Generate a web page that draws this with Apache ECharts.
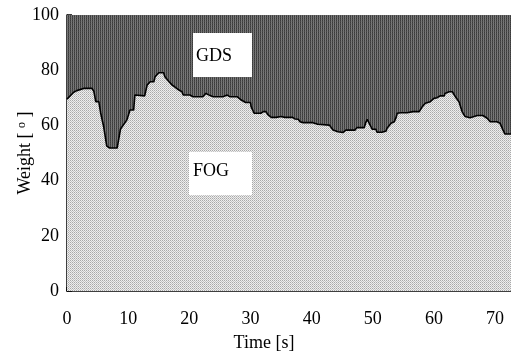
<!DOCTYPE html>
<html>
<head>
<meta charset="utf-8">
<script src="https://cdn.jsdelivr.net/npm/echarts@6/dist/echarts.min.js"></script>
<style>
  html, body { margin: 0; padding: 0; background: #fff; }
  #chart { width: 511px; height: 352px; }
</style>
</head>
<body>
<div id="chart"></div>
<script>
// Time axis (seconds) and FOG weight (%); GDS takes the remainder up to 100.
const timeS = [
  0, 1.1, 1.6, 2.7, 4.1, 4.4, 4.7, 5.2, 5.5, 6.0, 6.5, 7.0, 8.2, 8.5, 8.75,
  9.0, 9.8, 10.3, 10.9, 11.1, 11.4, 12.7, 13.1, 13.6, 14.2, 14.4, 15.0, 15.8,
  16.0, 16.7, 17.2, 17.6, 18.3, 18.8, 19.0, 20.1, 20.6, 22.2, 22.7, 23.4, 23.9,
  25.5, 26.2, 26.6, 27.8, 28.1, 28.5, 29.2, 30.0, 30.1, 30.6, 31.7, 32.1, 32.5,
  32.9, 33.4, 34.2, 34.5, 35.0, 35.6, 36.9, 37.3, 37.8, 38.1, 38.6, 40.2, 40.4,
  41.0, 41.2, 42.9, 43.2, 43.5, 43.7, 44.3, 44.5, 45.1, 45.3, 45.6, 47.1, 47.4,
  48.6, 48.9, 49.1, 49.4, 49.9, 50.5, 50.7, 51.5, 51.8, 52.2, 52.3, 53.0, 53.5,
  53.8, 54.0, 54.6, 55.6, 55.9, 56.6, 57.6, 57.7, 58.1, 58.6, 59.4, 60.0, 60.5,
  61.0, 61.7, 61.8, 62.5, 63.0, 63.3, 63.5, 64.1, 64.6, 65.1, 65.9, 67.1, 68.0,
  68.7, 69.2, 70.3, 70.8, 71.3, 71.6, 72.6
];
const fogWeight = [
  69.5, 72.0, 72.6, 73.4, 73.4, 72.2, 68.6, 68.6, 64.5, 59.5, 52.5, 51.8, 51.8, 51.4, 58.7,
  58.9, 62.0, 65.6, 65.6, 71.0, 70.7, 70.7, 74.6, 75.8, 75.8, 77.6, 79.1, 79.1,
  77.6, 75.8, 74.6, 74.0, 72.8, 72.2, 71.0, 71.0, 70.4, 70.4, 71.6, 70.8, 70.4,
  70.4, 71.0, 70.4, 70.4, 69.8, 69.2, 68.3, 68.3, 66.8, 64.4, 64.4, 65.0, 65.0,
  63.8, 62.9, 62.9, 63.2, 63.2, 62.9, 62.9, 62.3, 62.2, 61.3, 61.0, 61.0, 60.4,
  60.4, 60.1, 60.1, 59.5, 58.3, 57.7, 57.7, 57.4, 57.4, 58.1, 58.3, 58.3, 59.2,
  59.2, 61.3, 62.2, 60.8, 58.6, 58.6, 57.5, 57.5, 58.0, 58.0, 58.9, 60.8, 61.3,
  62.8, 64.4, 64.6, 64.6, 65.2, 65.0, 65.0, 65.6, 66.8, 68.0, 68.6, 69.8, 70.0,
  70.7, 70.7, 71.6, 72.2, 72.2, 71.6, 70.4, 68.6, 65.0, 63.2, 62.8, 63.6, 63.6,
  62.6, 61.3, 61.3, 60.8, 58.3, 56.9, 56.9
];
const xTicks = [0, 10, 20, 30, 40, 50, 60, 70];
const yTicks = [0, 20, 40, 60, 80, 100];
const seriesNames = ['GDS', 'FOG'];

const boundary = timeS.map((t, i) => [t, fogWeight[i]]);

// Small dithered fills, like a printed halftone.
function makePattern(cells) {
  const c = document.createElement('canvas');
  c.width = cells[0].length; c.height = cells.length;
  const ctx = c.getContext('2d');
  cells.forEach((row, y) => row.forEach((col, x) => {
    ctx.fillStyle = col; ctx.fillRect(x, y, 1, 1);
  }));
  return { image: c, repeat: 'repeat' };
}
const fogFill = makePattern([
  ['#a9a9a9', '#eeeeee'],
  ['#eeeeee', '#c4c4c4']
]);
const gdsFill = makePattern([
  ['#3a3a3a', '#7c7c7c'],
  ['#4a4a4a', '#727272']
]);

const serif = 'Liberation Serif, Times New Roman, serif';
const chart = echarts.init(document.getElementById('chart'), null, { renderer: 'canvas' });

chart.setOption({
  animation: false,
  backgroundColor: '#fff',
  grid: { left: 67, right: 0, top: 15, bottom: 61, containLabel: false, outerBoundsMode: 'none' },
  xAxis: {
    type: 'value', min: 0, max: 72.6, interval: 10,
    name: 'Time [s]', nameLocation: 'middle', nameGap: 43, nameMoveOverlap: false,
    nameTextStyle: { fontFamily: serif, fontSize: 18, color: '#000', padding: [0, 50, 0, 0] },
    axisLine: { show: true, lineStyle: { color: '#000', width: 1.5 } },
    axisTick: { show: true, inside: true, length: 4, lineStyle: { color: '#000', width: 1.5 } },
    axisLabel: {
      margin: 19, fontFamily: serif, fontSize: 18, color: '#000', showMaxLabel: false,
      formatter: v => (xTicks.indexOf(v) >= 0 ? String(v) : '')
    },
    splitLine: { show: false }
  },
  yAxis: {
    type: 'value', min: 0, max: 100, interval: 20,
    name: 'Weight [ {s|o} ]', nameLocation: 'middle', nameGap: 32, nameRotate: 90,
    nameMoveOverlap: false,
    nameTextStyle: {
      fontFamily: serif, fontSize: 18, color: '#000',
      rich: { s: { fontFamily: serif, fontSize: 12, color: '#000', padding: [0, 0, 7, 0] } }
    },
    axisLine: { show: true, lineStyle: { color: '#000', width: 1.5 } },
    axisTick: { show: true, inside: true, length: 5, lineStyle: { color: '#000', width: 1.5 } },
    axisLabel: {
      margin: 8, fontFamily: serif, fontSize: 18, color: '#000',
      formatter: v => (yTicks.indexOf(v) >= 0 ? String(v) : '')
    },
    splitLine: { show: false }
  },
  series: [
    {
      name: seriesNames[0], type: 'line', data: boundary, symbol: 'none', z: 1,
      lineStyle: { width: 0 },
      areaStyle: { color: gdsFill, opacity: 1, origin: 'end' }
    },
    {
      name: seriesNames[1], type: 'line', data: boundary, symbol: 'none', z: 2,
      lineStyle: { color: '#000', width: 1.6 },
      areaStyle: { color: fogFill, opacity: 1, origin: 'start' }
    }
  ],
  graphic: [
    { type: 'rect', z: 10, shape: { x: 193, y: 33, width: 59, height: 44 }, style: { fill: '#fff' } },
    { type: 'text', z: 11, left: 196, top: 47, style: { text: seriesNames[0], font: '18px ' + serif, fill: '#000' } },
    { type: 'rect', z: 10, shape: { x: 189, y: 152, width: 63, height: 43 }, style: { fill: '#fff' } },
    { type: 'text', z: 11, left: 193, top: 162, style: { text: seriesNames[1], font: '18px ' + serif, fill: '#000' } }
  ]
});
</script>
</body>
</html>
